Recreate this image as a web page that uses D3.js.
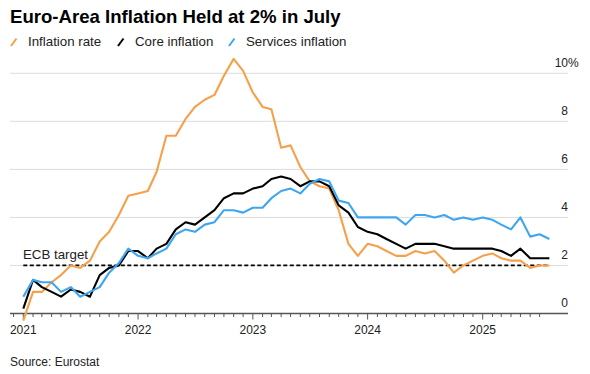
<!DOCTYPE html>
<meta charset="utf-8">
<head>
  <style>
    body { margin: 0; background: #fff; }
    text { font-family: "Liberation Sans", Arial, sans-serif; }
  </style>
  <title></title>
</head>
<body>
<div id="my_dataviz"></div>
<script src="https://d3js.org/d3.v7.min.js"></script>
<script>

// month of each reading (Dec 2020 .. Jul 2025)
var months = [
  "2020-12",
  "2021-01","2021-02","2021-03","2021-04","2021-05","2021-06","2021-07","2021-08","2021-09","2021-10","2021-11","2021-12",
  "2022-01","2022-02","2022-03","2022-04","2022-05","2022-06","2022-07","2022-08","2022-09","2022-10","2022-11","2022-12",
  "2023-01","2023-02","2023-03","2023-04","2023-05","2023-06","2023-07","2023-08","2023-09","2023-10","2023-11","2023-12",
  "2024-01","2024-02","2024-03","2024-04","2024-05","2024-06","2024-07","2024-08","2024-09","2024-10","2024-11","2024-12",
  "2025-01","2025-02","2025-03","2025-04","2025-05","2025-06","2025-07"
];

var inflationRate = [
  -0.3,
  0.9, 0.9, 1.3, 1.6, 2.0, 1.9, 2.2, 3.0, 3.4, 4.1, 4.9, 5.0,
  5.1, 5.9, 7.4, 7.4, 8.1, 8.6, 8.9, 9.1, 9.9, 10.6, 10.1, 9.2,
  8.6, 8.5, 6.9, 7.0, 6.1, 5.5, 5.3, 5.2, 4.3, 2.9, 2.4, 2.9,
  2.8, 2.6, 2.4, 2.4, 2.6, 2.5, 2.6, 2.2, 1.7, 2.0, 2.2, 2.4,
  2.5, 2.3, 2.2, 2.2, 1.9, 2.0, 2.0
];

var coreInflation = [
  0.2,
  1.4, 1.1, 0.9, 0.7, 1.0, 0.9, 0.7, 1.6, 1.9, 2.0, 2.6, 2.6,
  2.3, 2.7, 2.9, 3.5, 3.8, 3.7, 4.0, 4.3, 4.8, 5.0, 5.0, 5.2,
  5.3, 5.6, 5.7, 5.6, 5.3, 5.5, 5.5, 5.3, 4.5, 4.2, 3.6, 3.4,
  3.3, 3.1, 2.9, 2.7, 2.9, 2.9, 2.9, 2.8, 2.7, 2.7, 2.7, 2.7,
  2.7, 2.6, 2.4, 2.7, 2.3, 2.3, 2.3
];

var servicesInflation = [
  0.7,
  1.4, 1.3, 1.3, 0.9, 1.1, 0.7, 0.9, 1.1, 1.7, 2.1, 2.7, 2.4,
  2.3, 2.5, 2.7, 3.3, 3.5, 3.4, 3.7, 3.8, 4.3, 4.3, 4.2, 4.4,
  4.4, 4.8, 5.1, 5.2, 5.0, 5.4, 5.6, 5.5, 4.7, 4.6, 4.0, 4.0,
  4.0, 4.0, 4.0, 3.7, 4.1, 4.1, 4.0, 4.1, 3.9, 4.0, 3.9, 4.0,
  3.9, 3.7, 3.5, 4.0, 3.2, 3.3, 3.1
];

var yTicks = [0, 2, 4, 6, 8, 10];
var yearTicks = ["2021", "2022", "2023", "2024", "2025"];
var ecbTarget = 2;

var series = [
  {name: "Inflation rate", values: inflationRate, color: "#f5a04b"},
  {name: "Core inflation", values: coreInflation, color: "#000000"},
  {name: "Services inflation", values: servicesInflation, color: "#3ea6f0"}
];

var width = 590, height = 374;
var left = 10, right = 568;

var svg = d3.select("#my_dataviz")
  .append("svg")
    .attr("width", width)
    .attr("height", height);

var parseMonth = d3.timeParse("%Y-%m");
// each reading sits at the end of its month
var dates = months.map(function(m) { return d3.timeMonth.offset(parseMonth(m), 1); });

var x = d3.scaleTime()
  .domain([parseMonth("2021-01"), parseMonth("2025-01")])
  .range([23.3, 482.7]);

var y = d3.scaleLinear()
  .domain([0, 10])
  .range([313.5, 73.3]);

// title
svg.append("text")
  .attr("x", 10)
  .attr("y", 22.5)
  .style("font-size", "18.6px")
  .style("font-weight", "bold")
  .attr("fill", "#000")
  .text("Euro-Area Inflation Held at 2% in July");

// legend
var legX = [11, 118, 229];
series.forEach(function(s, i) {
  svg.append("line")
    .attr("x1", legX[i]).attr("y1", 46)
    .attr("x2", legX[i] + 5.5).attr("y2", 38.5)
    .attr("stroke", s.color)
    .attr("stroke-width", 2);
  svg.append("text")
    .attr("x", legX[i] + 17)
    .attr("y", 46)
    .style("font-size", "13.3px")
    .attr("fill", "#222")
    .text(s.name);
});

// gridlines
svg.append("g")
  .selectAll("line")
  .data(yTicks.filter(function(d) { return d > 0; }))
  .enter()
  .append("line")
    .attr("x1", left).attr("x2", right)
    .attr("y1", function(d) { return y(d); })
    .attr("y2", function(d) { return y(d); })
    .attr("stroke", "#dcdcdc")
    .attr("stroke-width", 1);

// y labels
svg.append("g")
  .selectAll("text")
  .data(yTicks)
  .enter()
  .append("text")
    .attr("x", right)
    .attr("y", function(d) { return y(d) - 6.5; })
    .attr("text-anchor", "end")
    .style("font-size", "12px")
    .attr("fill", "#222")
    .text(function(d) { return d; });

svg.append("text")
  .attr("x", right)
  .attr("y", y(10) - 6.5)
  .style("font-size", "12px")
  .attr("fill", "#222")
  .text("%");

// ECB target
svg.append("line")
  .attr("x1", x(dates[0]))
  .attr("x2", x(dates[dates.length - 1]))
  .attr("y1", y(ecbTarget))
  .attr("y2", y(ecbTarget))
  .attr("stroke", "#000")
  .attr("stroke-width", 1.8)
  .attr("stroke-dasharray", "4,2.5");

svg.append("text")
  .attr("x", 23)
  .attr("y", y(ecbTarget) - 6)
  .style("font-size", "13.3px")
  .attr("fill", "#222")
  .text("ECB target");

// x axis
svg.append("line")
  .attr("x1", left).attr("x2", right)
  .attr("y1", y(0)).attr("y2", y(0))
  .attr("stroke", "#555")
  .attr("stroke-width", 1.5);

var monthTicks = d3.timeMonth.range(parseMonth("2020-12"), parseMonth("2025-08"));
svg.append("g")
  .selectAll("line")
  .data(monthTicks)
  .enter()
  .append("line")
    .attr("x1", function(d) { return x(d); })
    .attr("x2", function(d) { return x(d); })
    .attr("y1", y(0))
    .attr("y2", function(d) { return y(0) + (d.getMonth() === 0 ? 6 : 3.5); })
    .attr("stroke", "#555")
    .attr("stroke-width", 1);

svg.append("g")
  .selectAll("text")
  .data(yearTicks)
  .enter()
  .append("text")
    .attr("x", function(d) { return x(parseMonth(d + "-01")); })
    .attr("y", 333.5)
    .attr("text-anchor", "middle")
    .style("font-size", "12px")
    .attr("fill", "#222")
    .text(function(d) { return d; });

// lines
var line = d3.line()
  .x(function(d, i) { return x(dates[i]); })
  .y(function(d) { return y(d); });

series.forEach(function(s) {
  svg.append("path")
    .datum(s.values)
    .attr("d", line)
    .attr("fill", "none")
    .attr("stroke", s.color)
    .attr("stroke-width", 2.1)
    .attr("stroke-linejoin", "round");
});

// source
svg.append("text")
  .attr("x", 10)
  .attr("y", 366)
  .style("font-size", "12px")
  .attr("fill", "#222")
  .text("Source: Eurostat");

</script>
</body>
